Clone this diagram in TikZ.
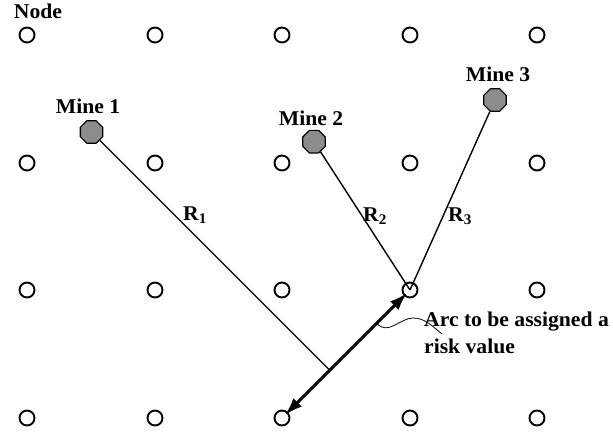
\documentclass[tikz,border=0pt]{standalone}
\usepackage{fontspec}
\setmainfont{Liberation Serif}[FakeStretch=1.03]
\usetikzlibrary{shapes.geometric,arrows.meta,calc}
\begin{document}
\begin{tikzpicture}[x=1pt,y=-1pt,
  gridnode/.style={circle,draw=black,line width=1.9pt,minimum size=15pt,inner sep=0pt},
  mine/.style={regular polygon,regular polygon sides=8,draw=black,line width=1.1pt,fill=black!45,minimum size=24.4pt,inner sep=0pt},
  lbl/.style={font=\fontsize{21}{27}\selectfont\bfseries,inner sep=0pt,anchor=base},
  conn/.style={line width=1.4pt},
  arcline/.style={line width=3pt,{Latex[length=18pt,width=12pt]}-{Latex[length=18pt,width=12pt]}}
]
\useasboundingbox (0,0) rectangle (613,434);
% grid nodes
\foreach \r/\yy in {1/35,2/163,3/290,4/418}{
  \foreach \c/\xx in {1/27,2/155,3/282,4/410,5/537}{
    \node[gridnode] (n\r\c) at (\xx,\yy) {};
  }
}
% mines
\node[mine] (m1) at (91.5,132) {};
\node[mine] (m2) at (314,141.7) {};
\node[mine] (m3) at (495,100) {};
% labels
\node[lbl] (tnode) at (38,18) {Node};
\node[lbl] (tm1) at (88,113) {Mine 1};
\node[lbl] (tm2) at (311,125) {Mine 2};
\node[lbl] (tm3) at (498,81) {Mine 3};
\node[lbl] (r1) at (195,220) {R\textsubscript{1}};
\node[lbl] (r2) at (375,221) {R\textsubscript{2}};
\node[lbl] (r3) at (460,221) {R\textsubscript{3}};
\node[lbl,anchor=base west,align=left] (tarc) at (424,353) {Arc to be assigned a\\risk value};
% foot of perpendicular from mine 1 onto the arc
\coordinate (foot) at ($(n34)!(m1)!(n43)$);
% connectors
\draw[conn] (m1) -- (foot);
\draw[conn] (m2) -- (n34.center);
\draw[conn] (m3) -- (n34.center);
\draw[arcline,shorten <=4pt,shorten >=4pt] (n43.center) -- (n34.center);
% leader
\coordinate (lstart) at ($(n34)!0.26!(n43)$);
\coordinate (lend) at (442,334);
\draw[line width=0.8pt] (lstart) .. controls (388,336) and (400,318) .. (413,318) .. controls (425,318) and (432,326) .. (lend);
\end{tikzpicture}
\end{document}
